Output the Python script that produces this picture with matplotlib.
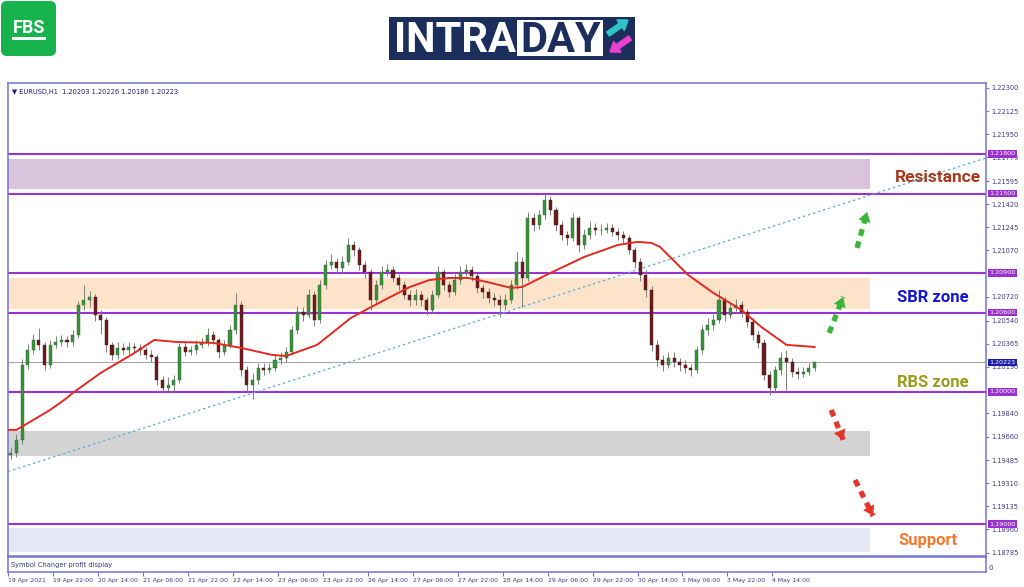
import numpy as np
import matplotlib
matplotlib.use("Agg")
import matplotlib.pyplot as plt
from matplotlib.patches import FancyBboxPatch, Rectangle, FancyArrow
from matplotlib.transforms import blended_transform_factory, offset_copy

# EURUSD H1, bars grouped by 2 hours
first_open = 1.19520
closes = [
    1.19539, 1.19637, 1.20204, 1.20318, 1.20393, 1.20356, 1.20204, 1.20356, 1.20378, 1.20393,
    1.20378, 1.20431, 1.20658, 1.20696, 1.20719, 1.20582, 1.20545, 1.20356, 1.20280, 1.20333,
    1.20318, 1.20340, 1.20333, 1.20318, 1.20280, 1.20265, 1.20091, 1.20030, 1.20053, 1.20091,
    1.20340, 1.20303, 1.20318, 1.20356, 1.20371, 1.20431, 1.20393, 1.20303, 1.20356, 1.20469,
    1.20658, 1.20166, 1.20053, 1.20091, 1.20182, 1.20166, 1.20182, 1.20242, 1.20257, 1.20303,
    1.20469, 1.20605, 1.20582, 1.20734, 1.20545, 1.20809, 1.20961, 1.20983, 1.20938, 1.20983,
    1.21112, 1.21074, 1.20961, 1.20908, 1.20696, 1.20809, 1.20908, 1.20923, 1.20862, 1.20809,
    1.20734, 1.20696, 1.20734, 1.20696, 1.20620, 1.20734, 1.20908, 1.20809, 1.20756, 1.20847,
    1.20908, 1.20923, 1.20877, 1.20787, 1.20756, 1.20711, 1.20696, 1.20658, 1.20696, 1.20809,
    1.20983, 1.20862, 1.21316, 1.21263, 1.21339, 1.21452, 1.21377, 1.21263, 1.21188, 1.21165,
    1.21316, 1.21112, 1.21188, 1.21240, 1.21225, 1.21225, 1.21240, 1.21210, 1.21188, 1.21165,
    1.21074, 1.20983, 1.20885, 1.20772, 1.20356, 1.20242, 1.20204, 1.20257, 1.20227, 1.20204,
    1.20182, 1.20166, 1.20318, 1.20469, 1.20507, 1.20545, 1.20696, 1.20582, 1.20635, 1.20658,
    1.20605, 1.20529, 1.20431, 1.20371, 1.20129, 1.20030, 1.20166, 1.20257, 1.20227, 1.20151,
    1.20136, 1.20151, 1.20182, 1.20223,
]
highs = [
    1.19580, 1.19680, 1.20250, 1.20360, 1.20440, 1.20485, 1.20380, 1.20390, 1.20420, 1.20430,
    1.20420, 1.20470, 1.20690, 1.20809, 1.20760, 1.20740, 1.20620, 1.20570, 1.20380, 1.20380,
    1.20370, 1.20380, 1.20370, 1.20360, 1.20340, 1.20320, 1.20290, 1.20120, 1.20110, 1.20130,
    1.20370, 1.20380, 1.20350, 1.20390, 1.20410, 1.20480, 1.20460, 1.20410, 1.20390, 1.20510,
    1.20749, 1.20690, 1.20200, 1.20140, 1.20220, 1.20220, 1.20220, 1.20280, 1.20300, 1.20340,
    1.20500, 1.20650, 1.20640, 1.20780, 1.20760, 1.20850, 1.21000, 1.21040, 1.21010, 1.21030,
    1.21165, 1.21140, 1.21100, 1.20990, 1.20930, 1.20850, 1.20950, 1.20970, 1.20950, 1.20890,
    1.20840, 1.20770, 1.20780, 1.20760, 1.20720, 1.20770, 1.20950, 1.20930, 1.20840, 1.20890,
    1.20950, 1.20970, 1.20950, 1.20900, 1.20820, 1.20790, 1.20750, 1.20730, 1.20740, 1.20850,
    1.21060, 1.21020, 1.21360, 1.21350, 1.21380, 1.21495, 1.21480, 1.21400, 1.21290, 1.21220,
    1.21350, 1.21330, 1.21230, 1.21290, 1.21280, 1.21270, 1.21280, 1.21270, 1.21240, 1.21220,
    1.21190, 1.21100, 1.21010, 1.20920, 1.20800, 1.20390, 1.20280, 1.20300, 1.20300, 1.20260,
    1.20240, 1.20210, 1.20350, 1.20510, 1.20560, 1.20590, 1.20772, 1.20720, 1.20680, 1.20700,
    1.20690, 1.20630, 1.20560, 1.20460, 1.20400, 1.20160, 1.20200, 1.20300, 1.20318, 1.20260,
    1.20190, 1.20190, 1.20220, 1.20226,
]
lows = [
    1.19490, 1.19510, 1.19610, 1.20170, 1.20290, 1.20320, 1.20166, 1.20180, 1.20330, 1.20350,
    1.20340, 1.20350, 1.20410, 1.20620, 1.20640, 1.20540, 1.20440, 1.20300, 1.20240, 1.20250,
    1.20290, 1.20290, 1.20300, 1.20280, 1.20250, 1.20230, 1.20050, 1.19992, 1.20010, 1.19995,
    1.20070, 1.20270, 1.20280, 1.20290, 1.20330, 1.20350, 1.20360, 1.20260, 1.20280, 1.20330,
    1.20440, 1.20120, 1.20010, 1.19945, 1.20060, 1.20130, 1.20140, 1.20160, 1.20210, 1.20230,
    1.20280, 1.20440, 1.20540, 1.20560, 1.20500, 1.20520, 1.20780, 1.20930, 1.20900, 1.20900,
    1.20960, 1.21030, 1.20920, 1.20860, 1.20620, 1.20660, 1.20780, 1.20880, 1.20830, 1.20770,
    1.20700, 1.20650, 1.20660, 1.20650, 1.20582, 1.20600, 1.20710, 1.20770, 1.20720, 1.20730,
    1.20820, 1.20880, 1.20840, 1.20750, 1.20710, 1.20670, 1.20650, 1.20567, 1.20620, 1.20670,
    1.20780, 1.20640, 1.20840, 1.21220, 1.21230, 1.21310, 1.21340, 1.21220, 1.21150, 1.21110,
    1.21140, 1.21060, 1.21080, 1.21160, 1.21190, 1.21190, 1.21200, 1.21180, 1.21150, 1.21130,
    1.21040, 1.20940, 1.20840, 1.20720, 1.20310, 1.20200, 1.20160, 1.20180, 1.20190, 1.20160,
    1.20140, 1.20120, 1.20140, 1.20290, 1.20430, 1.20470, 1.20520, 1.20540, 1.20560, 1.20610,
    1.20570, 1.20490, 1.20390, 1.20330, 1.20090, 1.19977, 1.20000, 1.20130, 1.20015, 1.20110,
    1.20100, 1.20110, 1.20130, 1.20160,
]
opens = [first_open] + closes[:-1]

# red moving average (hour index, price)
ma_hours = [0, 3, 9, 15, 21, 23, 33, 45, 52, 60, 73, 83, 94, 99, 110, 122, 134, 143, 150,
            157, 164, 172, 179, 183, 193, 205, 217, 224, 229, 232, 242, 251, 261, 268, 277, 287]
ma_values = [1.19713, 1.19713, 1.19788, 1.19864, 1.19955, 1.19992, 1.20144, 1.20295, 1.20393,
             1.20378, 1.20371, 1.20333, 1.20280, 1.20272, 1.20356, 1.20560, 1.20696, 1.20794,
             1.20847, 1.20862, 1.20862, 1.20824, 1.20787, 1.20794, 1.20900, 1.21021, 1.21112,
             1.21135, 1.21127, 1.21097, 1.20885, 1.20749, 1.20620, 1.20492, 1.20356, 1.20340]

trend_hours = [0, 348]
trend_values = [1.19398, 1.21770]

levels = [1.21800, 1.21500, 1.20900, 1.20600, 1.20000, 1.19000]
last_price = 1.20223
zone_low = [1.21536, 1.20628, 1.19516, 1.18790]
zone_high = [1.21762, 1.20862, 1.19705, 1.18971]
zone_colors = ["#d9c3dd", "#fde3c9", "#d3d3d3", "#e5e7f7"]
zone_end = 306.8

# visible price scale values (the ones under the level tags are hidden in the original)
price_ticks = [1.22300, 1.22125, 1.21950, 1.21775, 1.21595, 1.21420, 1.21245, 1.21070,
               1.20720, 1.20540, 1.20365, 1.20190, 1.19840, 1.19660,
               1.19485, 1.19310, 1.19135, 1.18960, 1.18785]
time_ticks = list(range(0, 273, 16))
time_labels = ["19 Apr 2021", "19 Apr 22:00", "20 Apr 14:00", "21 Apr 06:00", "21 Apr 22:00",
               "22 Apr 14:00", "23 Apr 06:00", "23 Apr 22:00", "26 Apr 14:00", "27 Apr 06:00",
               "27 Apr 22:00", "28 Apr 14:00", "29 Apr 06:00", "29 Apr 22:00", "30 Apr 14:00",
               "3 May 06:00", "3 May 22:00", "4 May 14:00"]

frame = "#7474d2"
axis_txt = "#3a3a8c"

fig = plt.figure(figsize=(10.24, 5.87), dpi=100)

# header (logos) in pixel coordinates
hax = fig.add_axes([0, 0, 1, 1], zorder=-1)
hax.set_xlim(0, 1024)
hax.set_ylim(587, 0)
hax.axis("off")
hax.add_patch(FancyBboxPatch((1, 1), 55, 55, boxstyle="round,pad=0,rounding_size=6",
                             fc="#16b34c", ec="none"))
hax.text(29, 33, "FBS", color="white", fontsize=13, fontweight="bold",
         family="Roboto", ha="center", va="baseline")
hax.add_patch(Rectangle((12, 37), 34, 2.5, fc="white", ec="none"))
hax.add_patch(Rectangle((389, 17), 246, 43, fc="#1c2e5c", ec="none"))
hax.add_patch(Rectangle((517, 20), 86, 36, fc="white", ec="none"))
hax.text(394, 52, "INTRA", color="white", fontsize=30, fontweight="bold",
         family="Roboto", ha="left", va="baseline")
hax.text(520, 52, "DAY", color="#1c2e5c", fontsize=30, fontweight="bold",
         family="Roboto", ha="left", va="baseline")
hax.add_patch(FancyArrow(608, 34, 20, -14, width=5, head_width=13, head_length=9,
                         length_includes_head=True, color="#2cc4c8"))
hax.add_patch(FancyArrow(630, 38, -20, 14, width=5, head_width=13, head_length=9,
                         length_includes_head=True, color="#e93fd3"))

# main chart
ax = fig.add_axes([8 / 1024, 1 - 556 / 587, 978 / 1024, 473 / 587])
ax.set_xlim(0, 348)
ax.set_ylim(1.18759, 1.22337)

for lo, hi, col in zip(zone_low, zone_high, zone_colors):
    ax.fill_between([0, zone_end], lo, hi, color=col, lw=0, zorder=1)

ax.axhline(last_price, color="#a8a8a8", lw=0.8, zorder=1.5)
for lv in levels:
    ax.axhline(lv, color="#9b32d2", lw=1.5, zorder=2)

ax.plot(trend_hours, trend_values, color="#5cb0d2", lw=0.9, ls=(0, (2, 2.2)), zorder=2.5)

o = np.array(opens)
c = np.array(closes)
h = np.array(highs)
l = np.array(lows)
hrs = np.arange(len(c)) * 2 + 1
up = c >= o
ax.vlines(hrs, l, h, color="#7d7d7d", lw=0.7, zorder=3)
body_bot = np.minimum(o, c)
body_h = np.maximum(np.abs(c - o), 0.00003)
ax.bar(hrs[up], body_h[up], bottom=body_bot[up], width=1.1, color="#3c8f3c",
       edgecolor="#2b6b2b", lw=0.3, zorder=4)
ax.bar(hrs[~up], body_h[~up], bottom=body_bot[~up], width=1.1, color="#6a1d1d",
       edgecolor="#4a1010", lw=0.3, zorder=4)

ax.plot(ma_hours, ma_values, color="#e22a22", lw=1.4, zorder=5)


def dashed_arrow(tail, tip, color):
    ax.plot([tail[0], tip[0]], [tail[1], tip[1]], color=color, lw=3.8,
            ls=(0, (1.3, 1.1)), solid_capstyle="butt", zorder=6)
    back = (tip[0] - 0.28 * (tip[0] - tail[0]), tip[1] - 0.28 * (tip[1] - tail[1]))
    ax.annotate("", xy=tip, xytext=back, zorder=6,
                arrowprops=dict(arrowstyle="-|>,head_length=0.7,head_width=0.45",
                                color=color, lw=0, shrinkA=0, shrinkB=0))


dashed_arrow((302.1, 1.21089), (305.7, 1.21362), "#3cb43c")
dashed_arrow((292.2, 1.20446), (297.2, 1.20719), "#3cb43c")
dashed_arrow((292.9, 1.19864), (297.2, 1.19637), "#e5352a")
dashed_arrow((301.4, 1.19334), (307.8, 1.19062), "#e5352a")

ax.text(331, 1.21619, "Resistance", color="#a63a1c", fontsize=12.5, fontweight="bold",
        family="Roboto", ha="center", va="center", zorder=7)
ax.text(329, 1.20711, "SBR zone", color="#1616cf", fontsize=12, fontweight="bold",
        family="Roboto", ha="center", va="center", zorder=7)
ax.text(329, 1.20068, "RBS zone", color="#9c9c1e", fontsize=12, fontweight="bold",
        family="Roboto", ha="center", va="center", zorder=7)
ax.text(327.4, 1.18873, "Support", color="#f07a30", fontsize=12, fontweight="bold",
        family="Roboto", ha="center", va="center", zorder=7)

ax.text(0.004, 0.988, "\u25bc EURUSD,H1  1.20203 1.20226 1.20186 1.20223",
        transform=ax.transAxes, fontsize=4.8, color="#1e1e7a", va="top", ha="left")

ax.yaxis.tick_right()
ax.set_yticks(price_ticks)
ax.set_yticklabels([f"{v:.5f}" for v in price_ticks])
ax.tick_params(axis="y", labelsize=4.8, labelcolor=axis_txt, length=2.5,
               color=frame, pad=1, width=0.8)
ax.tick_params(axis="x", bottom=False, labelbottom=False)
for sp in ax.spines.values():
    sp.set_color(frame)
    sp.set_linewidth(1.1)

trans = blended_transform_factory(ax.transAxes, ax.transData)
for lv in levels:
    ax.text(1.0035, lv, f"{lv:.5f}", transform=trans, fontsize=4.6, color="white",
            va="center", ha="left", zorder=8, clip_on=False,
            bbox=dict(boxstyle="square,pad=0.2", fc="#9b2fd0", ec="none"))
ax.text(1.0035, last_price, f"{last_price:.5f}", transform=trans, fontsize=4.6,
        color="white", va="center", ha="left", zorder=8, clip_on=False,
        bbox=dict(boxstyle="square,pad=0.2", fc="#1c1cb0", ec="none"))

# indicator sub-window
sub = fig.add_axes([8 / 1024, 1 - 572 / 587, 978 / 1024, 15 / 587])
sub.set_xlim(0, 348)
sub.set_ylim(0, 1)
sub.set_yticks([])
sub.set_xticks(time_ticks)
sub.set_xticklabels(time_labels)
for lab in sub.get_xticklabels():
    lab.set_ha("left")
    lab.set_transform(offset_copy(lab.get_transform(), fig=fig, x=1.5, units="points"))
sub.tick_params(axis="x", labelsize=4.4, labelcolor=axis_txt, length=3,
                color=frame, pad=1, width=0.8)
for sp in sub.spines.values():
    sp.set_color(frame)
    sp.set_linewidth(1.1)
sub.text(0.003, 0.5, "Symbol Changer profit display", transform=sub.transAxes,
         fontsize=4.8, color=axis_txt, va="center", ha="left")
sub.text(1.003, 0.3, "0", transform=sub.transAxes, fontsize=5, color=axis_txt,
         va="center", ha="left")

fig.savefig("out.png", dpi=100)
